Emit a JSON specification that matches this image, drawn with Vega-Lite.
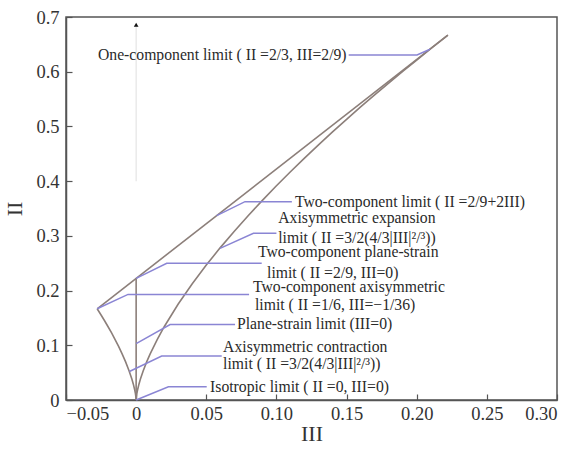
{
  "$schema": "https://vega.github.io/schema/vega-lite/v6.json",
  "width": 491,
  "height": 383,
  "autosize": {"type": "none"},
  "padding": {"left": 66, "top": 17, "right": 19, "bottom": 56},
  "background": "white",
  "config": {
    "view": {"stroke": "#555", "strokeWidth": 1.5},
    "axis": {
      "grid": false,
      "domainColor": "#555",
      "domainWidth": 1.5,
      "tickColor": "#555",
      "tickWidth": 1.2,
      "tickSize": -6,
      "labelFont": "Liberation Serif",
      "labelFontSize": 18.5,
      "labelColor": "#333",
      "titleFont": "Liberation Serif",
      "titleFontSize": 22,
      "titleFontWeight": "normal",
      "titleColor": "#333"
    }
  },
  "datasets": {
    "curves": [
      {"curve": "two", "o": 0, "x": -0.02778, "y": 0.16667},
      {"curve": "two", "o": 1, "x": 0.22222, "y": 0.66667},
      {"curve": "ps", "o": 0, "x": 0, "y": 0},
      {"curve": "ps", "o": 1, "x": 0, "y": 0.2222},
      {"curve": "axi", "o": 0, "x": -0.02778, "y": 0.1667},
      {"curve": "axi", "o": 1, "x": -0.025, "y": 0.1554},
      {"curve": "axi", "o": 2, "x": -0.0225, "y": 0.1448},
      {"curve": "axi", "o": 3, "x": -0.02, "y": 0.1339},
      {"curve": "axi", "o": 4, "x": -0.0175, "y": 0.1225},
      {"curve": "axi", "o": 5, "x": -0.015, "y": 0.1105},
      {"curve": "axi", "o": 6, "x": -0.0125, "y": 0.0979},
      {"curve": "axi", "o": 7, "x": -0.01, "y": 0.0843},
      {"curve": "axi", "o": 8, "x": -0.0075, "y": 0.0696},
      {"curve": "axi", "o": 9, "x": -0.005, "y": 0.0531},
      {"curve": "axi", "o": 10, "x": -0.003, "y": 0.0378},
      {"curve": "axi", "o": 11, "x": -0.002, "y": 0.0289},
      {"curve": "axi", "o": 12, "x": -0.001, "y": 0.0182},
      {"curve": "axi", "o": 13, "x": -0.0005, "y": 0.0115},
      {"curve": "axi", "o": 14, "x": -0.0002, "y": 0.0062},
      {"curve": "axi", "o": 15, "x": 0, "y": 0},
      {"curve": "axi", "o": 16, "x": 0.0002, "y": 0.0062},
      {"curve": "axi", "o": 17, "x": 0.0005, "y": 0.0115},
      {"curve": "axi", "o": 18, "x": 0.001, "y": 0.0182},
      {"curve": "axi", "o": 19, "x": 0.002, "y": 0.0289},
      {"curve": "axi", "o": 20, "x": 0.003, "y": 0.0378},
      {"curve": "axi", "o": 21, "x": 0.005, "y": 0.0531},
      {"curve": "axi", "o": 22, "x": 0.0075, "y": 0.0696},
      {"curve": "axi", "o": 23, "x": 0.01, "y": 0.0843},
      {"curve": "axi", "o": 24, "x": 0.015, "y": 0.1105},
      {"curve": "axi", "o": 25, "x": 0.02, "y": 0.1339},
      {"curve": "axi", "o": 26, "x": 0.03, "y": 0.1754},
      {"curve": "axi", "o": 27, "x": 0.04, "y": 0.2125},
      {"curve": "axi", "o": 28, "x": 0.05, "y": 0.2466},
      {"curve": "axi", "o": 29, "x": 0.06, "y": 0.2785},
      {"curve": "axi", "o": 30, "x": 0.07, "y": 0.3086},
      {"curve": "axi", "o": 31, "x": 0.08, "y": 0.3373},
      {"curve": "axi", "o": 32, "x": 0.09, "y": 0.3649},
      {"curve": "axi", "o": 33, "x": 0.10, "y": 0.3915},
      {"curve": "axi", "o": 34, "x": 0.11, "y": 0.4171},
      {"curve": "axi", "o": 35, "x": 0.12, "y": 0.4421},
      {"curve": "axi", "o": 36, "x": 0.13, "y": 0.4663},
      {"curve": "axi", "o": 37, "x": 0.14, "y": 0.4899},
      {"curve": "axi", "o": 38, "x": 0.15, "y": 0.5130},
      {"curve": "axi", "o": 39, "x": 0.16, "y": 0.5356},
      {"curve": "axi", "o": 40, "x": 0.17, "y": 0.5576},
      {"curve": "axi", "o": 41, "x": 0.18, "y": 0.5793},
      {"curve": "axi", "o": 42, "x": 0.19, "y": 0.6005},
      {"curve": "axi", "o": 43, "x": 0.20, "y": 0.6214},
      {"curve": "axi", "o": 44, "x": 0.21, "y": 0.6420},
      {"curve": "axi", "o": 45, "x": 0.22222, "y": 0.66667}
    ],
    "leaders": [
      {"id": 1, "o": 0, "x": 0.1515, "y": 0.6307},
      {"id": 1, "o": 1, "x": 0.2002, "y": 0.6307},
      {"id": 1, "o": 2, "x": 0.2095, "y": 0.641},
      {"id": 2, "o": 0, "x": 0.111, "y": 0.3625},
      {"id": 2, "o": 1, "x": 0.0776, "y": 0.3625},
      {"id": 2, "o": 2, "x": 0.0574, "y": 0.337},
      {"id": 3, "o": 0, "x": 0.100, "y": 0.3047},
      {"id": 3, "o": 1, "x": 0.0836, "y": 0.3047},
      {"id": 3, "o": 2, "x": 0.0598, "y": 0.277},
      {"id": 4, "o": 0, "x": 0.0895, "y": 0.250},
      {"id": 4, "o": 1, "x": 0.0218, "y": 0.250},
      {"id": 4, "o": 2, "x": 0, "y": 0.2222},
      {"id": 5, "o": 0, "x": 0.0805, "y": 0.193},
      {"id": 5, "o": 1, "x": -0.0058, "y": 0.193},
      {"id": 5, "o": 2, "x": -0.0278, "y": 0.1667},
      {"id": 6, "o": 0, "x": 0.0705, "y": 0.138},
      {"id": 6, "o": 1, "x": 0.0242, "y": 0.138},
      {"id": 6, "o": 2, "x": 0, "y": 0.103},
      {"id": 7, "o": 0, "x": 0.061, "y": 0.0804},
      {"id": 7, "o": 1, "x": 0.0182, "y": 0.0804},
      {"id": 7, "o": 2, "x": -0.0048, "y": 0.052},
      {"id": 8, "o": 0, "x": 0.0503, "y": 0.0243},
      {"id": 8, "o": 1, "x": 0.023, "y": 0.0243},
      {"id": 8, "o": 2, "x": 0, "y": 0}
    ],
    "labels": [
      {"x": -0.0272, "y": 0.6307, "t": "One-component limit ( II =2/3, III=2/9)"},
      {"x": 0.1132, "y": 0.3625, "t": "Two-component limit ( II =2/9+2III)"},
      {"x": 0.1013, "y": 0.333, "t": "Axisymmetric expansion"},
      {"x": 0.1013, "y": 0.2956, "t": "limit ( II =3/2(4/3|III|²/³))"},
      {"x": 0.0868, "y": 0.271, "t": "Two-component plane-strain"},
      {"x": 0.0933, "y": 0.232, "t": "limit ( II =2/9, III=0)"},
      {"x": 0.0833, "y": 0.207, "t": "Two-component axisymmetric"},
      {"x": 0.0847, "y": 0.174, "t": "limit ( II =1/6, III=−1/36)"},
      {"x": 0.0719, "y": 0.138, "t": "Plane-strain limit (III=0)"},
      {"x": 0.062, "y": 0.0975, "t": "Axisymmetric contraction"},
      {"x": 0.062, "y": 0.0658, "t": "limit ( II =3/2(4/3|III|²/³))"},
      {"x": 0.0527, "y": 0.0232, "t": "Isotropic limit ( II =0, III=0)"}
    ],
    "faint": [
      {"o": 0, "x": 0, "y": 0.4},
      {"o": 1, "x": 0, "y": 0.683}
    ],
    "arrow": [
      {"x": 0, "y": 0.686}
    ]
  },
  "encoding": {
    "x": {
      "field": "x", "type": "quantitative",
      "scale": {"domain": [-0.05, 0.30], "nice": false, "zero": false},
      "axis": {
        "title": "III",
        "values": [-0.05, 0, 0.05, 0.10, 0.15, 0.20, 0.25, 0.30],
        "labelExpr": "datum.value == 0 ? '0' : format(datum.value, '.2f')",
        "labelPadding": 10,
        "titlePadding": 1
      }
    },
    "y": {
      "field": "y", "type": "quantitative",
      "scale": {"domain": [0, 0.7], "nice": false},
      "axis": {
        "title": "II",
        "values": [0, 0.1, 0.2, 0.3, 0.4, 0.5, 0.6, 0.7],
        "labelExpr": "datum.value == 0 ? '0' : format(datum.value, '.1f')",
        "labelPadding": 13,
        "titlePadding": 9
      }
    }
  },
  "layer": [
    {
      "data": {"name": "faint"},
      "mark": {"type": "line", "color": "#e4e4e4", "strokeWidth": 1.2},
      "encoding": {"order": {"field": "o"}}
    },
    {
      "data": {"name": "arrow"},
      "mark": {"type": "point", "shape": "triangle-up", "filled": true, "color": "#111", "size": 22, "opacity": 1}
    },
    {
      "data": {"name": "curves"},
      "mark": {"type": "line", "color": "#8c7f7a", "strokeWidth": 1.6},
      "encoding": {"detail": {"field": "curve"}, "order": {"field": "o"}}
    },
    {
      "data": {"name": "leaders"},
      "mark": {"type": "line", "color": "#8a85d4", "strokeWidth": 1.5},
      "encoding": {"detail": {"field": "id"}, "order": {"field": "o"}}
    },
    {
      "data": {"name": "labels"},
      "mark": {"type": "text", "align": "left", "baseline": "middle", "font": "Liberation Serif", "fontSize": 15.7, "color": "#2a2a2a"},
      "encoding": {"text": {"field": "t"}}
    }
  ]
}
